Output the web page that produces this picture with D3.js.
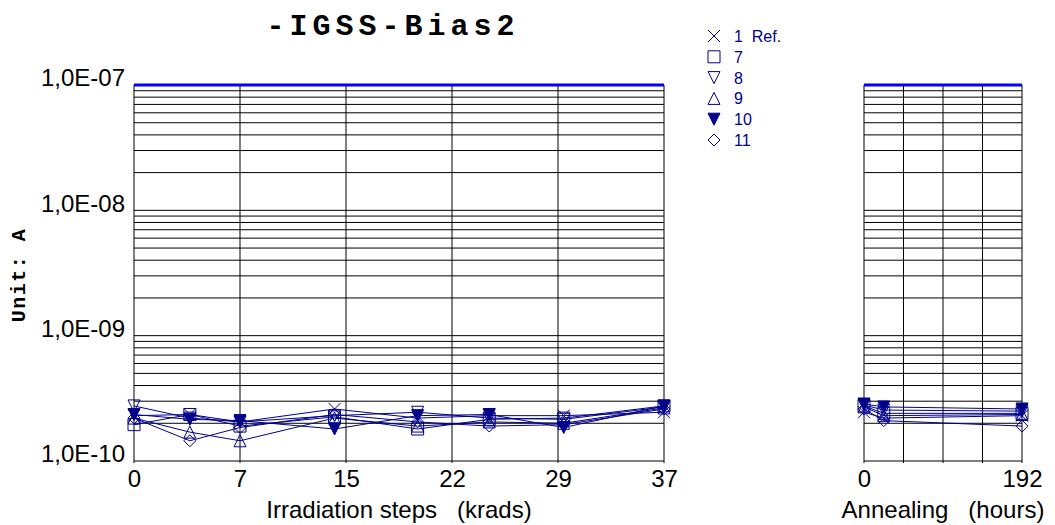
<!DOCTYPE html>
<html>
<head>
<meta charset="utf-8">
<script src="https://cdn.jsdelivr.net/npm/d3@7"></script>
<style>
  body { margin: 0; background: #fff; }
  svg { display: block; }
  text { font-family: "Liberation Sans", Arial, sans-serif; }
</style>
</head>
<body>
<svg id="chart"></svg>
<script>
// --- data ---
const seriesNames = ["1  Ref.", "7", "8", "9", "10", "11"];
const seriesSymbols = ["x", "square", "triDown", "triUp", "triDownFilled", "diamond"];

const irrSteps = [0, 3.9, 7.4, 14, 19.8, 24.8, 30, 37];
const irrTickValues = [0, 7.4, 14.8, 22.2, 29.6, 37];
const irrTickLabels = ["0", "7", "15", "22", "29", "37"];

const annHours = [0, 24, 192];
const annGridValues = [0, 48, 96, 144, 192];
const annTickValues = [0, 192];
const annTickLabels = ["0", "192"];

const yTickValues = [1e-10, 1e-9, 1e-8, 1e-7];
const yTickLabels = ["1,0E-10", "1,0E-09", "1,0E-08", "1,0E-07"];
const limitValue = 1e-7;

// current in A, one row per series
const irrValues = [
  [2.30e-10, 2.35e-10, 2.05e-10, 2.60e-10, 2.20e-10, 2.30e-10, 2.30e-10, 2.45e-10],
  [1.95e-10, 2.35e-10, 1.90e-10, 2.25e-10, 1.80e-10, 2.15e-10, 2.20e-10, 2.75e-10],
  [2.75e-10, 2.20e-10, 2.05e-10, 2.30e-10, 2.45e-10, 2.20e-10, 2.15e-10, 2.70e-10],
  [2.20e-10, 1.70e-10, 1.45e-10, 2.20e-10, 1.90e-10, 2.05e-10, 2.00e-10, 2.65e-10],
  [2.35e-10, 2.15e-10, 2.10e-10, 1.80e-10, 2.30e-10, 2.35e-10, 1.85e-10, 2.75e-10],
  [2.20e-10, 1.45e-10, 1.85e-10, 2.35e-10, 2.05e-10, 1.90e-10, 1.95e-10, 2.60e-10]
];
const annValues = [
  [2.45e-10, 2.20e-10, 2.30e-10],
  [2.75e-10, 2.40e-10, 2.40e-10],
  [2.80e-10, 2.55e-10, 2.50e-10],
  [2.70e-10, 2.30e-10, 2.35e-10],
  [2.85e-10, 2.70e-10, 2.60e-10],
  [2.60e-10, 2.10e-10, 1.90e-10]
];

// --- setup ---
const width = 1055, height = 525;
const navy = "#00008b";
const svg = d3.select("#chart").attr("width", width).attr("height", height);

const y = d3.scaleLog().domain([1e-10, 1e-7]).range([461, 85]);
const xIrr = d3.scaleLinear().domain([0, 37]).range([134, 664]);
const xAnn = d3.scaleLinear().domain([0, 192]).range([864, 1022]);

// minor log grid values
const gridY = [];
for (let e = -10; e < -7; e++) {
  for (let m = 1; m <= 9; m++) gridY.push(m * Math.pow(10, e));
}

function markerPath(type, h) {
  switch (type) {
    case "x": return `M${-h},${-h}L${h},${h}M${-h},${h}L${h},${-h}`;
    case "square": return `M${-h},${-h}H${h}V${h}H${-h}Z`;
    case "triDown":
    case "triDownFilled": return `M${-h},${-h}H${h}L0,${h}Z`;
    case "triUp": return `M${-h},${h}H${h}L0,${-h}Z`;
    case "diamond": return `M0,${-h}L${h},0L0,${h}L${-h},0Z`;
  }
}

function drawPanel(x, gridX, tickValues, tickLabels, xs, values, title) {
  const g = svg.append("g");
  const [x0, x1] = x.range();

  g.append("g").selectAll("line.h").data(gridY).enter().append("line")
    .attr("x1", x0).attr("x2", x1)
    .attr("y1", d => y(d)).attr("y2", d => y(d))
    .attr("stroke", "#000").attr("stroke-width", 1);

  g.append("g").selectAll("line.v").data(gridX).enter().append("line")
    .attr("x1", d => x(d)).attr("x2", d => x(d))
    .attr("y1", y(limitValue)).attr("y2", y(1e-10) + 2)
    .attr("stroke", "#000").attr("stroke-width", 1);

  // limit line
  g.append("line")
    .attr("x1", x0).attr("x2", x1)
    .attr("y1", y(limitValue)).attr("y2", y(limitValue))
    .attr("stroke", "#0000ff").attr("stroke-width", 3);

  const xAxis = d3.axisBottom(x)
    .tickValues(tickValues)
    .tickFormat((d, i) => tickLabels[i])
    .tickSize(0).tickPadding(9);
  const ax = g.append("g").attr("transform", `translate(0,${y(1e-10)})`).call(xAxis);
  ax.select(".domain").remove();
  ax.selectAll("text").attr("font-size", 24).attr("fill", "#000")
    .style("font-family", "Liberation Sans, Arial, sans-serif");

  g.append("text")
    .attr("x", (x0 + x1) / 2).attr("y", 518)
    .attr("text-anchor", "middle").attr("font-size", 24)
    .style("white-space", "pre")
    .text(title);

  const line = d3.line().x((d, i) => x(xs[i])).y(d => y(d));
  values.forEach((vals, s) => {
    g.append("path").attr("d", line(vals))
      .attr("fill", "none").attr("stroke", navy).attr("stroke-width", 1);
  });
  values.forEach((vals, s) => {
    const type = seriesSymbols[s];
    g.append("g").selectAll("path").data(vals).enter().append("path")
      .attr("transform", (d, i) => `translate(${x(xs[i])},${y(d)})`)
      .attr("d", markerPath(type, 6))
      .attr("fill", type === "triDownFilled" ? navy : "none")
      .attr("stroke", navy).attr("stroke-width", 1);
  });
}

drawPanel(xIrr, irrTickValues, irrTickValues, irrTickLabels, irrSteps, irrValues,
  "Irradiation steps   (krads)");
drawPanel(xAnn, annGridValues, annTickValues, annTickLabels, annHours, annValues,
  "Annealing   (hours)");

// y axis labels
const yAxis = d3.axisLeft(y).tickValues(yTickValues)
  .tickFormat((d, i) => yTickLabels[i]).tickSize(0).tickPadding(9);
const ay = svg.append("g").attr("transform", `translate(${xIrr.range()[0]},0)`).call(yAxis);
ay.select(".domain").remove();
ay.selectAll("text").attr("font-size", 24).attr("fill", "#000").attr("y", -7)
  .style("font-family", "Liberation Sans, Arial, sans-serif");

// title
svg.append("text").attr("x", 393).attr("y", 35).attr("text-anchor", "middle")
  .attr("font-size", 30).attr("font-weight", "bold").attr("letter-spacing", 5)
  .style("font-family", "Liberation Mono, Courier New, monospace")
  .text("-IGSS-Bias2");

// y title
svg.append("text").attr("transform", "translate(25,275) rotate(-90)")
  .attr("text-anchor", "middle").attr("font-size", 20).attr("font-weight", "bold")
  .attr("letter-spacing", 1.5)
  .style("font-family", "Liberation Mono, Courier New, monospace")
  .text("Unit: A");

// legend
const legend = svg.append("g").attr("transform", "translate(714,36)");
seriesNames.forEach((name, i) => {
  const row = legend.append("g").attr("transform", `translate(0,${i * 20.8})`);
  const type = seriesSymbols[i];
  row.append("path").attr("d", markerPath(type, 6))
    .attr("fill", type === "triDownFilled" ? navy : "none")
    .attr("stroke", navy).attr("stroke-width", 1);
  row.append("text").attr("x", 20).attr("y", 6).attr("font-size", 16)
    .attr("fill", navy).style("white-space", "pre").text(name);
});
</script>
</body>
</html>
